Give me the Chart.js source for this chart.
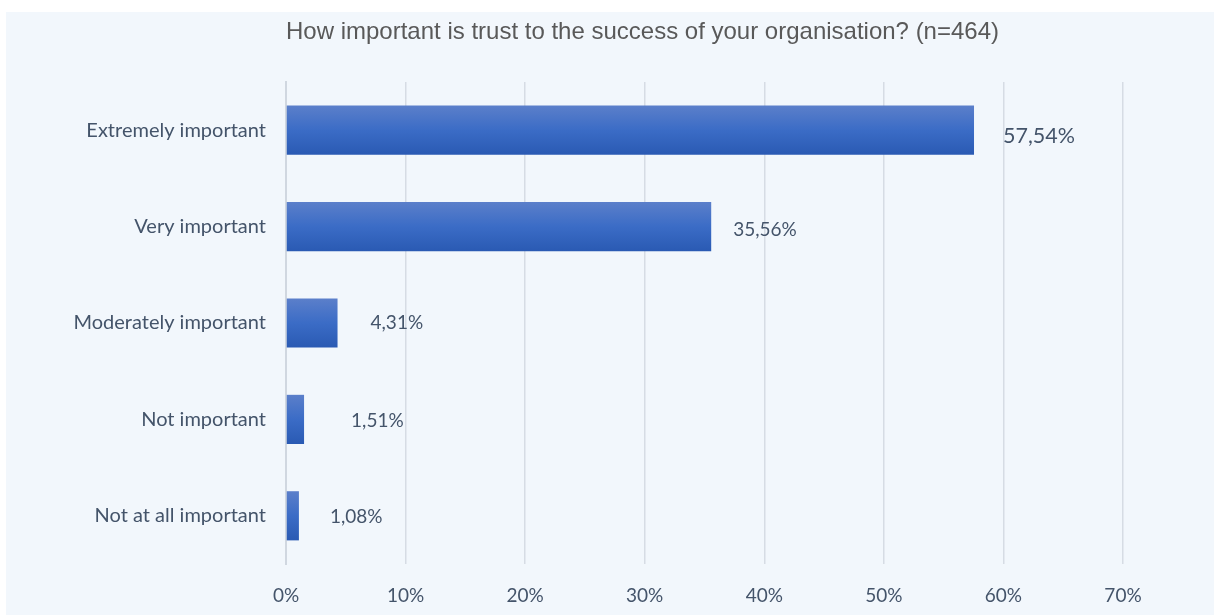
<!DOCTYPE html>
<html>
<head>
<meta charset="utf-8">
<script src="https://cdn.jsdelivr.net/npm/chart.js@4/dist/chart.umd.min.js"></script>
<style>
  html, body { margin: 0; padding: 0; background: #ffffff; }
  #box { position: absolute; left: 6px; top: 12px; width: 1208px; height: 603px; background: #f2f7fc; }
  canvas { display: block; }
</style>
</head>
<body>
<div id="box"><canvas id="c" width="1208" height="603"></canvas></div>
<script>
const titleText = "How important is trust to the success of your organisation? (n=464)";
const categories = ["Extremely important", "Very important", "Moderately important", "Not important", "Not at all important"];
const values = [57.54, 35.56, 4.31, 1.51, 1.08];
const valueLabels = ["57,54%", "35,56%", "4,31%", "1,51%", "1,08%"];
const xTicks = [0, 10, 20, 30, 40, 50, 60, 70];

// label styling (offset from bar end, vertical nudge, font size)
const labelStyle = [
  { dx: 29, dy: 6, size: 21.5 },
  { dx: 22, dy: 3, size: 19 },
  { dx: 33, dy: 0, size: 19 },
  { dx: 47, dy: 1, size: 19 },
  { dx: 31, dy: 1, size: 19 }
];

const textColor = '#44546a';
const fontFam = 'Lato, "Open Sans", sans-serif';
const barPct = 0.51;

function barFill(c) {
  const ch = c.chart;
  const ys = ch.scales && ch.scales.y;
  if (!ys || !ch.chartArea || c.dataIndex === undefined) return '#3b6cc6';
  const center = ys.getPixelForValue(c.dataIndex);
  const h = ys.height / categories.length * barPct;
  const g = ch.ctx.createLinearGradient(0, center - h / 2, 0, center + h / 2);
  g.addColorStop(0, '#5b7fca');
  g.addColorStop(0.5, '#3b6cc6');
  g.addColorStop(1, '#2a5ab3');
  return g;
}

const labelsPlugin = {
  id: 'valueLabels',
  afterDatasetsDraw(chart) {
    const ctx = chart.ctx;
    ctx.save();
    ctx.fillStyle = textColor;
    ctx.textAlign = 'left';
    ctx.textBaseline = 'middle';
    chart.getDatasetMeta(0).data.forEach((bar, i) => {
      const st = labelStyle[i];
      ctx.font = st.size + 'px ' + fontFam;
      ctx.fillText(valueLabels[i], bar.x + st.dx, bar.y + st.dy);
    });
    ctx.restore();
  }
};

const titlePlugin = {
  id: 'customTitle',
  afterDraw(chart) {
    const ctx = chart.ctx;
    ctx.save();
    ctx.fillStyle = '#595959';
    ctx.font = '24px "Liberation Sans", Arial, sans-serif';
    ctx.textAlign = 'left';
    ctx.textBaseline = 'middle';
    ctx.fillText(titleText, chart.chartArea.left, 20);
    ctx.restore();
  }
};

new Chart(document.getElementById('c'), {
  type: 'bar',
  data: {
    labels: categories,
    datasets: [{
      data: values,
      backgroundColor: barFill,
      borderWidth: 0,
      categoryPercentage: 1,
      barPercentage: barPct
    }]
  },
  options: {
    indexAxis: 'y',
    responsive: false,
    animation: false,
    layout: { padding: { top: 70, right: 91, left: 0, bottom: 0 } },
    plugins: { legend: { display: false }, title: { display: false }, tooltip: { enabled: false } },
    scales: {
      x: {
        min: 0, max: 70,
        afterBuildTicks(scale) { scale.ticks = xTicks.map(v => ({ value: v })); },
        afterFit(scale) { scale.height = 51; },
        border: { display: false },
        grid: { color: '#d6dce4', lineWidth: 1.5, drawTicks: false },
        ticks: {
          padding: 20,
          color: textColor,
          font: { family: fontFam, size: 19 },
          callback: v => v + '%'
        }
      },
      y: {
        afterFit(scale) { scale.width = 280; },
        border: { display: true, color: '#d0d7e0', width: 2 },
        grid: { display: false, drawTicks: false },
        ticks: {
          padding: 20,
          color: textColor,
          font: { family: fontFam, size: 20 }
        }
      }
    }
  },
  plugins: [labelsPlugin, titlePlugin]
});
</script>
</body>
</html>
